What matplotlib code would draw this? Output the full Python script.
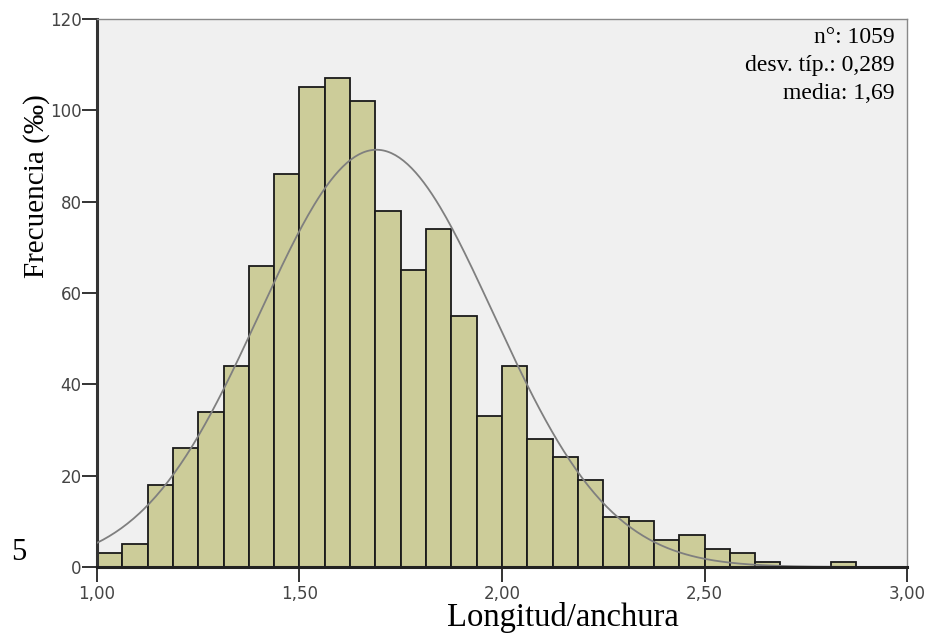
import numpy as np
import matplotlib
matplotlib.use("Agg")
import matplotlib.pyplot as plt

# Data (counts per bin of width 1/16 from 1.00 to 3.00)
bin_start = 1.0
bin_width = 0.0625
counts = [3, 5, 18, 26, 34, 44, 66, 86, 105, 107, 102, 78, 65, 74, 55, 33,
          44, 28, 24, 19, 11, 10, 6, 7, 4, 3, 1, 0, 0, 1, 0, 0]
n_total = 1059
std_dev = 0.289
mean_val = 1.69
x_ticks = [1.0, 1.5, 2.0, 2.5, 3.0]
x_tick_labels = ["1,00", "1,50", "2,00", "2,50", "3,00"]
y_ticks = [0, 20, 40, 60, 80, 100, 120]

fig = plt.figure(figsize=(9.29, 6.35), dpi=100)
ax = fig.add_axes([97/929, 1-567/635, 810/929, 548/635])
ax.set_facecolor("#f0f0f0")

edges = bin_start + bin_width * np.arange(len(counts))
ax.bar(edges, counts, width=bin_width, align="edge", color="#cccc99",
       edgecolor="#1a1a1a", linewidth=1.3, zorder=2)

xs = np.linspace(1.0, 3.0, 400)
pdf = n_total * bin_width / (std_dev * np.sqrt(2*np.pi)) * np.exp(-0.5*((xs-mean_val)/std_dev)**2)
ax.plot(xs, pdf, color="#7f7f7f", linewidth=1.3, zorder=3)

ax.set_xlim(1.0, 3.0)
ax.set_ylim(0, 120)
ax.set_xticks(x_ticks)
ax.set_xticklabels(x_tick_labels)
ax.set_yticks(y_ticks)
for lab in ax.get_xticklabels() + ax.get_yticklabels():
    lab.set_fontfamily("DejaVu Sans")
    lab.set_fontsize(12)
    lab.set_color("#444444")
ax.tick_params(axis="both", direction="out", length=11, width=1.4, color="#333333")
ax.tick_params(axis="y", pad=0)
ax.tick_params(axis="x", pad=2)

ax.spines["left"].set_linewidth(2.2)
ax.spines["left"].set_color("#333333")
ax.spines["bottom"].set_linewidth(2.2)
ax.spines["bottom"].set_color("#222222")
ax.spines["bottom"].set_zorder(4)
ax.spines["top"].set_color("#888888")
ax.spines["top"].set_linewidth(1.0)
ax.spines["right"].set_color("#888888")
ax.spines["right"].set_linewidth(1.0)

fig.text(563/929, 1-626/635, "Longitud/anchura", family="Liberation Serif",
         fontsize=23.5, ha="center", va="baseline")
fig.text(37/929, 1-186/635, "Frecuencia (‰)", family=["Liberation Serif", "DejaVu Serif"],
         fontsize=21, ha="center", va="center", rotation=90)

stats = ["n°: 1059", "desv. típ.: 0,289", "media: 1,69"]
for i, s in enumerate(stats):
    ax.text(0.985, 0.985 - i*0.051, s, transform=ax.transAxes, family="Liberation Serif",
            fontsize=17, ha="right", va="top")

fig.text(19/929, 1-553/635, "5", family="Liberation Serif", fontsize=22,
         ha="center", va="center")

fig.savefig("out.png", dpi=100, facecolor="white")
